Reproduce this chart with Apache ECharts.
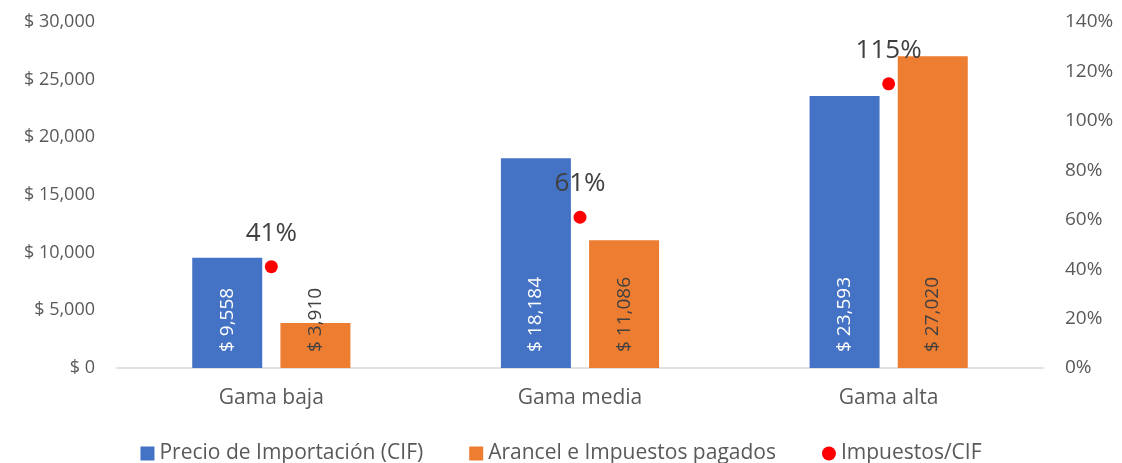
<!DOCTYPE html>
<html>
<head>
<meta charset="utf-8">
<script src="https://cdn.jsdelivr.net/npm/echarts@6/dist/echarts.min.js"></script>
<style>
  html, body { margin: 0; padding: 0; background: #fff; }
  #main { width: 1122px; height: 463px; }
</style>
</head>
<body>
<div id="main"></div>
<script>
var categories = ['Gama baja', 'Gama media', 'Gama alta'];
var precioCIF = [9558, 18184, 23593];
var impuestos = [3910, 11086, 27020];
var ratio = [41, 61, 115];

function money(v) {
    return '$ ' + v.toLocaleString('en-US');
}

var chartDom = document.getElementById('main');
var myChart = echarts.init(chartDom);
var option;

var fontFam = 'Open Sans';

option = {
    textStyle: { fontFamily: fontFam },
    grid: { left: 117, right: 79, top: 22, bottom: 95 },
    legend: {
        top: 438,
        left: 'center',
        itemGap: 46,
        itemWidth: 14,
        itemHeight: 14,
        textStyle: { fontSize: 21, color: '#595959', fontFamily: fontFam },
        data: [
            { name: 'Precio de Importación (CIF)', icon: 'rect' },
            { name: 'Arancel e Impuestos pagados', icon: 'rect' },
            { name: 'Impuestos/CIF', icon: 'circle' }
        ]
    },
    xAxis: {
        type: 'category',
        data: categories,
        axisTick: { show: false },
        axisLine: { lineStyle: { color: '#d9d9d9', width: 1.5 } },
        axisLabel: { fontSize: 21, color: '#595959', margin: 20 }
    },
    yAxis: [
        {
            type: 'value',
            min: 0, max: 30000, interval: 5000,
            splitLine: { show: false },
            axisLabel: {
                fontSize: 18, color: '#595959', margin: 22,
                formatter: function (v) { return money(v); }
            }
        },
        {
            type: 'value',
            min: 0, max: 140, interval: 20,
            splitLine: { show: false },
            axisLabel: {
                fontSize: 19, color: '#595959', margin: 22,
                formatter: '{value}%'
            }
        }
    ],
    series: [
        {
            name: 'Precio de Importación (CIF)',
            type: 'bar',
            data: precioCIF,
            barWidth: 70,
            barGap: '26%',
            itemStyle: { color: '#4472c4' },
            label: {
                show: true,
                position: 'insideBottom',
                rotate: 90,
                align: 'left',
                verticalAlign: 'middle',
                distance: 16,
                fontSize: 19,
                color: '#ffffff',
                formatter: function (p) { return money(p.value); }
            }
        },
        {
            name: 'Arancel e Impuestos pagados',
            type: 'bar',
            data: impuestos,
            barWidth: 70,
            itemStyle: { color: '#ed7d31' },
            label: {
                show: true,
                position: 'insideBottom',
                rotate: 90,
                align: 'left',
                verticalAlign: 'middle',
                distance: 16,
                fontSize: 19,
                color: '#404040',
                formatter: function (p) { return money(p.value); }
            }
        },
        {
            name: 'Impuestos/CIF',
            type: 'scatter',
            yAxisIndex: 1,
            data: ratio,
            symbol: 'circle',
            symbolSize: 13,
            itemStyle: { color: '#ff0000', opacity: 1 },
            z: 5,
            label: {
                show: true,
                position: 'top',
                distance: 14,
                fontSize: 26,
                color: '#404040',
                formatter: '{c}%'
            }
        }
    ]
};

option && myChart.setOption(option);
</script>
</body>
</html>
